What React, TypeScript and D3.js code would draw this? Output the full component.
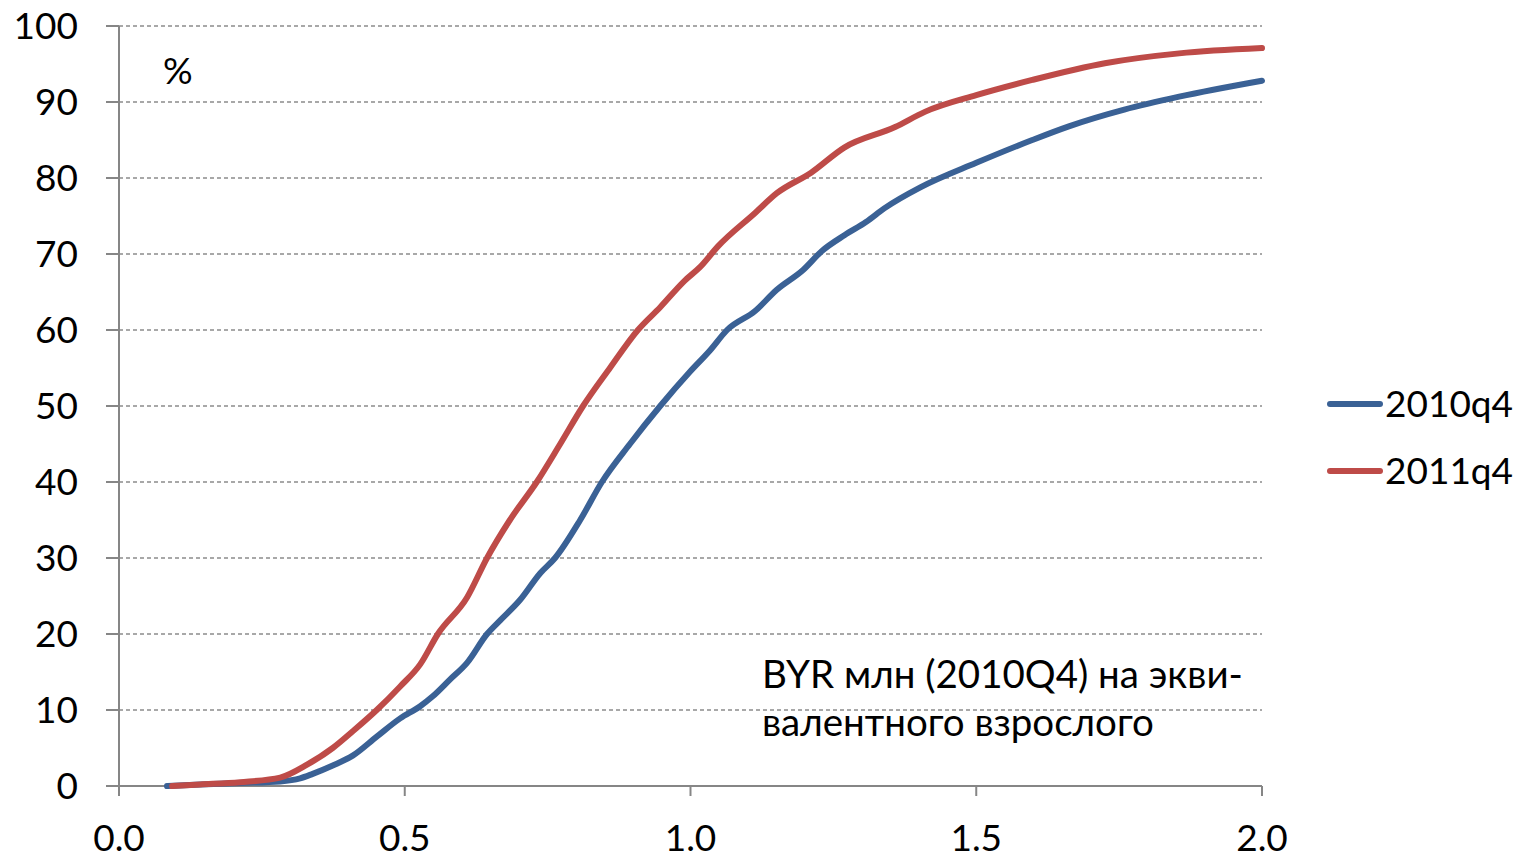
import React from "react";
import * as d3 from "d3";

const xTicks = [0, 0.5, 1.0, 1.5, 2.0];
const yTicks = [0, 10, 20, 30, 40, 50, 60, 70, 80, 90, 100];
const seriesNames = ["2010q4", "2011q4"];
const seriesColors = ["#3A6195", "#BE4B48"];

const x2010 = [0.084, 0.142, 0.212, 0.282, 0.317, 0.339, 0.374, 0.409, 0.451, 0.492, 0.527, 0.549, 0.579, 0.609, 0.644, 0.667, 0.702, 0.737, 0.763, 0.807, 0.845, 0.894, 0.947, 0.999, 1.034, 1.064, 1.113, 1.151, 1.197, 1.230, 1.270, 1.307, 1.339, 1.403, 1.500, 1.598, 1.662, 1.759, 1.855, 2.0];
const y2010 = [0, 0.2, 0.4, 0.6, 1.0, 1.6, 2.7, 4.0, 6.5, 8.9, 10.5, 11.8, 14.0, 16.2, 20.0, 21.8, 24.5, 28.0, 30.0, 35.0, 40.0, 45.0, 50.0, 54.5, 57.3, 60.0, 62.5, 65.3, 67.9, 70.4, 72.5, 74.2, 76.0, 78.8, 82.0, 85.0, 86.8, 89.0, 90.7, 92.8];

const x2011 = [0.093, 0.142, 0.212, 0.282, 0.329, 0.374, 0.409, 0.451, 0.492, 0.527, 0.558, 0.609, 0.644, 0.684, 0.731, 0.772, 0.812, 0.859, 0.908, 0.947, 0.990, 1.017, 1.048, 1.113, 1.151, 1.211, 1.269, 1.358, 1.410, 1.500, 1.598, 1.725, 1.855, 2.0];
const y2011 = [0, 0.2, 0.5, 1.1, 2.8, 5.0, 7.2, 10.0, 13.1, 16.0, 20.0, 24.8, 30.0, 35.0, 40.0, 45.0, 50.0, 55.0, 60.0, 63.0, 66.5, 68.3, 71.0, 75.4, 78.0, 80.7, 84.0, 86.7, 88.7, 90.9, 92.9, 95.1, 96.4, 97.1];

const annotationLines = ["BYR млн (2010Q4) на экви-", "валентного взрослого"];

export default function App() {
  const W = 1521, H = 858;
  const x = d3.scaleLinear().domain([0, 2]).range([119, 1262]);
  const y = d3.scaleLinear().domain([0, 100]).range([786, 26]);
  const font = "Lato, 'Open Sans', sans-serif";
  const line = d3
    .line<[number, number]>()
    .x((d) => x(d[0]))
    .y((d) => y(d[1]))
    .curve(d3.curveMonotoneX);
  const series = [
    x2010.map((v, i) => [v, y2010[i]] as [number, number]),
    x2011.map((v, i) => [v, y2011[i]] as [number, number]),
  ];
  return (
    <svg width={W} height={H} style={{ position: "absolute", left: 0, top: 0, background: "#fff" }}>
      {yTicks.slice(1).map((t) => (
        <line key={"g" + t} x1={x(0)} x2={x(2)} y1={y(t)} y2={y(t)} stroke="#8c8c8c" strokeWidth={1.5} strokeDasharray="4,3" />
      ))}
      <line x1={x(0)} x2={x(0)} y1={y(100)} y2={y(0) + 10} stroke="#868686" strokeWidth={2} />
      {yTicks.map((t) => (
        <g key={"y" + t}>
          <line x1={106} x2={x(0)} y1={y(t)} y2={y(t)} stroke="#868686" strokeWidth={2} />
          <text x={78} y={y(t)} dy="0.35em" textAnchor="end" fontFamily={font} fontSize={37} fill="#000">
            {t}
          </text>
        </g>
      ))}
      <line x1={x(0)} x2={x(2)} y1={y(0)} y2={y(0)} stroke="#868686" strokeWidth={2} />
      {xTicks.map((t) => (
        <g key={"x" + t}>
          <line x1={x(t)} x2={x(t)} y1={y(0)} y2={y(0) + 10} stroke="#868686" strokeWidth={2} />
          <text x={x(t)} y={851} textAnchor="middle" fontFamily={font} fontSize={37} fill="#000">
            {d3.format(".1f")(t)}
          </text>
        </g>
      ))}
      {series.map((s, i) => (
        <path key={"s" + i} d={line(s) || ""} fill="none" stroke={seriesColors[i]} strokeWidth={6} strokeLinecap="round" strokeLinejoin="round" />
      ))}
      <text x={163} y={84} fontFamily={font} fontSize={37} fill="#000">%</text>
      {annotationLines.map((l, i) => (
        <text key={"a" + i} x={762} y={688 + i * 48} fontFamily={font} fontSize={38.5} fill="#000">
          {l}
        </text>
      ))}
      {seriesNames.map((n, i) => (
        <g key={"l" + n}>
          <line x1={1330} x2={1380} y1={404 + i * 67} y2={404 + i * 67} stroke={seriesColors[i]} strokeWidth={6} strokeLinecap="round" />
          <text x={1385} y={404 + i * 67} dy="0.35em" fontFamily={font} fontSize={37} fill="#000">
            {n}
          </text>
        </g>
      ))}
    </svg>
  );
}
